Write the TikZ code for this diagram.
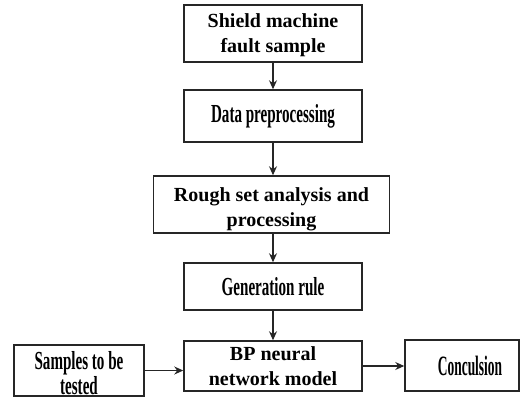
\documentclass[tikz,border=0pt]{standalone}
\usepackage{fontspec}
\setmainfont{Liberation Serif}
\newfontfamily\condfont[FakeStretch=0.58]{Liberation Serif}
\newfontfamily\condfontb[FakeStretch=0.48]{Liberation Serif}
\usetikzlibrary{arrows.meta}
\newcommand\lowertext[2]{\raisebox{-#1}[\height][\depth]{\begin{tabular}{@{}c@{}}#2\end{tabular}}}
\begin{document}
\begin{tikzpicture}[x=0.5pt,y=-0.5pt,
  box/.style={draw=black!85,line width=0.75pt,minimum width=#1,inner sep=0pt,align=center,font=\fontsize{10}{12.5}\selectfont\bfseries},
  cbox/.style={draw=black!85,line width=0.75pt,minimum width=#1,inner sep=0pt,align=center,font=\condfont\fontsize{13}{15}\selectfont\bfseries},
  arr/.style={-{Stealth[length=4.5pt,width=4pt]},line width=0.6pt,black!85}]
\useasboundingbox (0,0) rectangle (529,398);
\node[box=89pt,minimum height=28.5pt] (b1) at (273,33.5) {\lowertext{0.8pt}{Shield machine\\fault sample}};
\node[cbox=89pt,minimum height=26pt] (b2) at (273,116) {Data preprocessing};
\node[box=118pt,minimum height=28.5pt] (b3) at (271.5,204.5) {\lowertext{2pt}{Rough set analysis and\\processing}};
\node[cbox=89pt,minimum height=23.5pt] (b4) at (273,286.5) {Generation rule};
\node[box=89pt,minimum height=25pt] (bp) at (273,366) {BP neural\\network model};
\node[cbox=65pt,minimum height=25.5pt,font=\condfont\fontsize{13}{12.5}\selectfont\bfseries] (sm) at (79,370.5) {\lowertext{3pt}{Samples to be\\tested}};
\node[cbox=57pt,minimum height=25.5pt,font=\condfontb\fontsize{14}{16}\selectfont\bfseries] (cc) at (462,365.5) {\hspace*{8pt}Conculsion};
\draw[arr] (b1) -- (b2);
\draw[arr] (b2) -- (b3.north -| b2);
\draw[arr] (b3.south -| b4) -- (b4);
\draw[arr] (b4) -- (bp);
\draw[arr] (sm.east) -- (sm.east -| bp.west);
\draw[arr] (bp.east) -- (bp.east -| cc.west);
\end{tikzpicture}
\end{document}
